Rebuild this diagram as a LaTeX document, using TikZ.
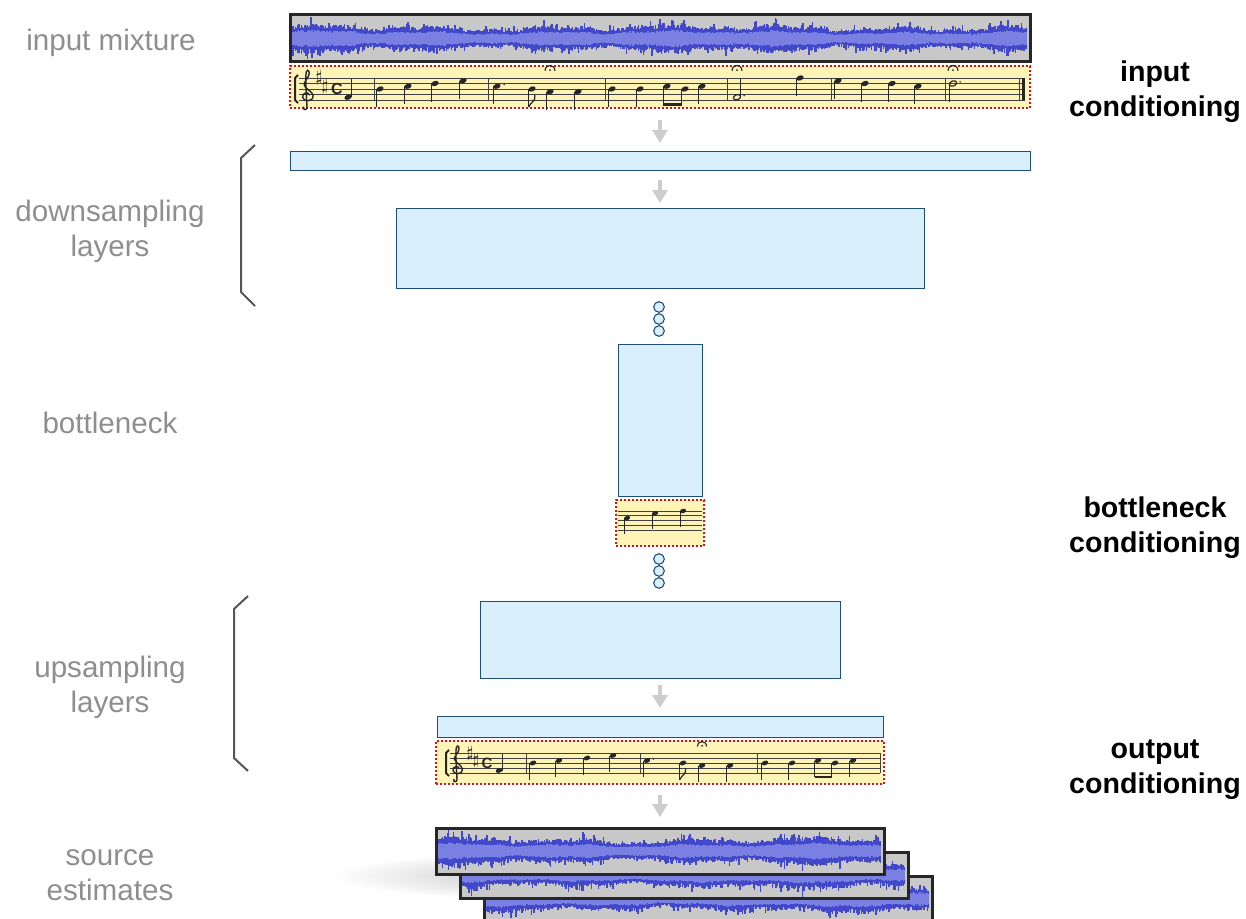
\documentclass[tikz,border=0pt]{standalone}
\usepackage{fontspec}
\setmainfont{Liberation Sans}
\usetikzlibrary{arrows.meta,fadings}
\definecolor{blfill}{HTML}{D9F0FC}
\definecolor{bldraw}{HTML}{1F4E79}
\definecolor{wgray}{HTML}{C8C8C8}
\definecolor{wdark}{HTML}{4148CB}
\definecolor{wlight}{HTML}{7A7FE2}
\definecolor{yel}{HTML}{FFF4B8}
\definecolor{reddot}{HTML}{C8161E}
\definecolor{labgray}{HTML}{8E8E8E}
\definecolor{arrgray}{HTML}{CDCDCD}
\definecolor{brk}{HTML}{555555}
\tikzfading[name=softout, inner color=transparent!0, outer color=transparent!100]

% staff helpers (pixel coordinates)
\newcommand\setstaff[2]{\def\stb{#1}\def\sts{#2}\pgfmathsetmacro\hrx{0.68*#2*0.5}\pgfmathsetmacro\hry{0.46*#2*0.5}}
\newcommand\stafflines[2]{\foreach \k in {0,...,4}{\draw[stl] (#1,\stb-\k*\sts) -- (#2,\stb-\k*\sts);}}
\newcommand\bline[1]{\draw[stl] (#1,\stb) -- (#1,\stb-4*\sts);}
\newcommand\nhead[2]{\fill[ink, rotate around={20:(#1,#2)}] (#1,#2) ellipse (\hrx pt and \hry pt);}
\newcommand\hhead[2]{\draw[inkd, line width=0.6pt, rotate around={20:(#1,#2)}] (#1,#2) ellipse (\hrx pt and \hry pt);}
\newcommand\qd[3][3.3]{\pgfmathsetmacro\ny{\stb-(#3)*\sts/2}\nhead{#2}{\ny}\draw[stem] (#2-0.62*\sts,\ny) -- (#2-0.62*\sts,\ny+#1*\sts);}
\newcommand\qu[3][3.3]{\pgfmathsetmacro\ny{\stb-(#3)*\sts/2}\nhead{#2}{\ny}\draw[stem] (#2+0.62*\sts,\ny) -- (#2+0.62*\sts,\ny-#1*\sts);}
\newcommand\hnd[2]{\pgfmathsetmacro\ny{\stb-(#2)*\sts/2}\hhead{#1}{\ny}\draw[stem] (#1-0.62*\sts,\ny) -- (#1-0.62*\sts,\ny+3.3*\sts);}
\newcommand\hnu[2]{\pgfmathsetmacro\ny{\stb-(#2)*\sts/2}\hhead{#1}{\ny}\draw[stem] (#1+0.62*\sts,\ny) -- (#1+0.62*\sts,\ny-3.3*\sts);}
\newcommand\ndot[2]{\pgfmathsetmacro\ny{\stb-(#2)*\sts/2}\fill[ink] (#1+1.3*\sts,\ny-0.3*\sts) circle (0.45pt);}
\newcommand\nferm[1]{\pgfmathsetmacro\fy{\stb-5.3*\sts}\draw[inkd, line width=0.55pt] (#1-0.9*\sts,\fy) .. controls (#1-0.9*\sts,\fy-1.3*\sts) and (#1+0.9*\sts,\fy-1.3*\sts) .. (#1+0.9*\sts,\fy); \fill[ink] (#1,\fy-0.15*\sts) circle (0.5pt);}
\newcommand\nflag[2]{\pgfmathsetmacro\ny{\stb-(#2)*\sts/2}\pgfmathsetmacro\se{\ny+3.3*\sts}\draw[inkd, line width=0.6pt] (#1-0.62*\sts,\se) .. controls (#1-0.3*\sts,\se-0.9*\sts) and (#1+0.8*\sts,\se-1.1*\sts) .. (#1+0.5*\sts,\se-2.2*\sts);}
\newcommand\nbeam[2]{\draw[inkd, line width=1.3pt] (#1-0.62*\sts-0.3,\stb+0.8*\sts) -- (#2-0.62*\sts+0.3,\stb+0.8*\sts);}
\newcommand\sharpat[3]{\node[inner sep=0, text=black!85, font=\fontsize{#3}{#3}\selectfont] at (#1,\stb-#2*\sts/2) {$\sharp$};}
\newcommand\ctime[2]{\node[inner sep=0, text=black!85, font=\fontsize{#2}{#2}\selectfont] at (#1,\stb-2*\sts) {$\mathbf{C}$};}
\newcommand\sysbr[1]{\draw[inkd, line width=1pt] (#1+3,\stb-4*\sts-3) .. controls (#1+1,\stb-4*\sts-2) .. (#1,\stb-4*\sts) -- (#1,\stb) .. controls (#1+1,\stb+2) .. (#1+3,\stb+3);}
\newcommand\gclef[1]{\pgfmathsetmacro\gy{\stb-\sts}%
 \draw[inkd, line width=0.7pt] (#1+0.5*\sts,\gy+0.1*\sts) .. controls (#1+0.2*\sts,\gy-0.6*\sts) and (#1-0.9*\sts,\gy-0.3*\sts) .. (#1-0.8*\sts,\gy+0.5*\sts) .. controls (#1-0.7*\sts,\gy+1.4*\sts) and (#1+1.2*\sts,\gy+1.4*\sts) .. (#1+1.1*\sts,\gy+0.2*\sts) .. controls (#1+1.0*\sts,\gy-0.8*\sts) and (#1-1.3*\sts,\gy-1.2*\sts) .. (#1-0.2*\sts,\gy-2.6*\sts) .. controls (#1+0.6*\sts,\gy-3.5*\sts) and (#1+0.5*\sts,\gy-4.4*\sts) .. (#1+0.1*\sts,\gy-4.4*\sts) .. controls (#1-0.3*\sts,\gy-4.4*\sts) and (#1-0.3*\sts,\gy-3*\sts) .. (#1,\gy+2.3*\sts) .. controls (#1,\gy+2.9*\sts) and (#1-0.9*\sts,\gy+2.9*\sts) .. (#1-0.6*\sts,\gy+2.2*\sts);}

% waveform
\newcommand\wavef[4]{%
 \pgfmathsetseed{#4}%
 \pgfmathtruncatemacro\wn{(#2-#1)/1.2}%
 \foreach \i in {0,...,\wn}{%
  \pgfmathsetmacro\wx{#1+\i*1.2}%
  \pgfmathsetmacro\wenv{1+0.16*sin(\i*3.7+#4)+0.13*sin(\i*1.1+60+#4)+0.09*sin(\i*9.3)}%
  \pgfmathsetmacro\wt{\wenv*(8+3.5*rnd+6*rnd^7)}%
  \pgfmathsetmacro\wb{\wenv*(8+3.5*rnd+6*rnd^7)}%
  \pgfmathsetmacro\wl{\wenv*(5+1.6*rnd)}%
  \draw[wdark, line width=0.75pt] (\wx,#3-\wt) -- (\wx,#3+\wb);
  \draw[wlight, line width=0.75pt] (\wx,#3-\wl) -- (\wx,#3+\wl);
 }}

\begin{document}
\begin{tikzpicture}[x=0.5pt,y=-0.5pt,
  blk/.style={draw=bldraw, fill=blfill, line width=0.5pt, inner sep=0, outer sep=0},
  wavebox/.style={fill=wgray, draw=none, inner sep=0, outer sep=0},
  waveedge/.style={draw=black!85, line width=1.5pt},
  scorebox/.style={draw=reddot, fill=yel, line width=1pt, dash pattern=on 1pt off 1pt, inner sep=0, outer sep=0},
  dotc/.style={circle, draw=bldraw, fill=blfill, line width=0.55pt, minimum size=5.3pt, inner sep=0},
  arr/.style={draw=arrgray, line width=1.6pt, -{Triangle[length=6.5pt,width=7.5pt]}},
  lab/.style={text=labgray, font=\fontsize{14.8}{17.5}\selectfont, align=center},
  blab/.style={text=black, font=\bfseries\fontsize{14.3}{17.5}\selectfont, align=center},
  brack/.style={draw=brk, line width=1pt},
  stl/.style={draw=black!75, line width=0.45pt},
  stem/.style={draw=black!85, line width=0.5pt},
  ink/.style={fill=black!85},
  inkd/.style={draw=black!85}]
\useasboundingbox (0,0) rectangle (1246,919);
\clip (0,0) rectangle (1246,919);

% ---- left labels
\node[lab] (lmix) at (111,43) {input mixture};
\node[lab] (ldown) at (110,231) {downsampling\\layers};
\node[lab] (lbott) at (110,423) {bottleneck};
\node[lab] (lup) at (110,687.5) {upsampling\\layers};
\node[lab] (lsrc) at (110,875) {source\\estimates};
% ---- right labels
\node[blab] (rin) at (1155,92) {input\\conditioning};
\node[blab] (rbott) at (1155,527.5) {bottleneck\\conditioning};
\node[blab] (rout) at (1155,769.5) {output\\conditioning};

% ---- brackets
\draw[brack] (255,145) -- (241,158) -- (241,292) -- (255,306);
\draw[brack] (248,596) -- (234,609) -- (234,758) -- (248,771);

% ---- input mixture
\node[wavebox, minimum width=740*0.5pt, minimum height=47*0.5pt] (mix) at (660,38.5) {};
\wavef{293}{1027}{38.5}{17}
\draw[waveedge] (mix.south west) rectangle (mix.north east);

% ---- input score
\node[scorebox, minimum width=740*0.5pt, minimum height=42*0.5pt] (sc1) at (660,87) {};
\setstaff{100}{5.5}
\stafflines{299}{1025}
\sysbr{295}
\gclef{307}
\sharpat{319}{8}{8.5}
\sharpat{325}{5}{8.5}
\ctime{337}{8}
\qu{348}{1}
\bline{374}
\qd{380}{4} \qd{408}{5} \qd{435}{6} \qd{463}{7}
\bline{488}
\qd{497}{5}\ndot{497}{5}
\qd{532}{4}\nflag{532}{4}
\qd{550}{3}\nferm{550}
\qd{578}{3}
\bline{605}
\qd{612}{4} \qd{640}{4}
\qd{667}{5} \qd[2.8]{685}{4}\nbeam{667}{685}
\qd{702}{5}
\bline{727}
\hnu{737}{1}\ndot{737}{1}\nferm{737}
\qd{800}{8}
\bline{831}
\qd{838}{7} \qd{865}{6} \qd{892}{6} \qd{918}{5}
\bline{945}
\hnd{953}{6}\ndot{953}{6}\nferm{953}
\bline{1019}
\draw[inkd, line width=1.3pt] (1023.5,\stb) -- (1023.5,\stb-4*\sts);

% ---- downsampling
\node[blk, minimum width=740*0.5pt, minimum height=19*0.5pt] (bar1) at (660,161.5) {};
\node[blk, minimum width=528*0.5pt, minimum height=80*0.5pt] (down2) at (660,249) {};
\draw[arr, shorten <=6pt, shorten >=4.5pt] (sc1) -- (bar1);
\draw[arr, shorten <=4.5pt, shorten >=3pt] (bar1) -- (down2);

\node[dotc] (d1) at (659,307) {};
\node[dotc] (d2) at (659,319) {};
\node[dotc] (d3) at (659,331) {};

% ---- bottleneck
\node[blk, minimum width=84*0.5pt, minimum height=151*0.5pt] (bott) at (660,420.5) {};
\node[scorebox, minimum width=88*0.5pt, minimum height=46*0.5pt] (scb) at (660,523) {};
\setstaff{530}{4.75}
\stafflines{618}{702}
\qd{627}{5} \qd{655}{7} \qd{683}{8}

\node[dotc] (d4) at (659,559) {};
\node[dotc] (d5) at (659,571) {};
\node[dotc] (d6) at (659,583) {};

% ---- upsampling
\node[blk, minimum width=360*0.5pt, minimum height=77*0.5pt] (up1) at (660,639.5) {};
\node[blk, minimum width=446*0.5pt, minimum height=21*0.5pt] (bar2) at (660,726.5) {};
\draw[arr, shorten <=3.5pt, shorten >=4pt] (up1) -- (bar2);

% ---- output score
\node[scorebox, minimum width=448*0.5pt, minimum height=43*0.5pt] (sc2) at (660,762.5) {};
\setstaff{773}{5}
\stafflines{450}{880}
\sysbr{446}
\gclef{457}
\sharpat{470}{8}{8}
\sharpat{476}{5}{8}
\ctime{487}{7.5}
\qu{499}{1}
\bline{526}
\qd{533}{4} \qd{559}{5} \qd{587}{6} \qd{613}{7}
\bline{640}
\qd{647}{5}\ndot{647}{5}
\qd{683}{4}\nflag{683}{4}
\qd{702}{3}\nferm{702}
\qd{730}{3}
\bline{757}
\qd{765}{4} \qd{792}{4}
\qd{818}{5} \qd[2.8]{835}{4}\nbeam{818}{835}
\qd{853}{5}
\bline{880}

% ---- source estimates
\fill[black!28, path fading=softout] (610,876) ellipse (140pt and 13pt);
\node[wavebox, minimum width=448*0.5pt, minimum height=46*0.5pt] (src3) at (708,899) {};
\wavef{487}{929}{899}{53}
\draw[waveedge] (src3.south west) rectangle (src3.north east);
\node[wavebox, minimum width=448*0.5pt, minimum height=46*0.5pt] (src2) at (684,875) {};
\wavef{463}{905}{875}{91}
\draw[waveedge] (src2.south west) rectangle (src2.north east);
\node[wavebox, minimum width=448*0.5pt, minimum height=46*0.5pt] (src1) at (660,851) {};
\wavef{439}{881}{851}{29}
\draw[waveedge] (src1.south west) rectangle (src1.north east);
\draw[arr, shorten <=5.5pt, shorten >=5.5pt] (sc2) -- (src1);
\end{tikzpicture}
\end{document}
